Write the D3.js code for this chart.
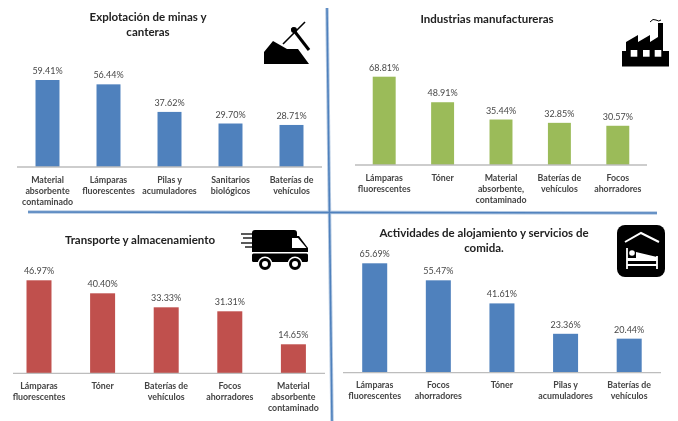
<!DOCTYPE html>
<html>
<head>
<meta charset="utf-8">
<script src="https://d3js.org/d3.v7.min.js"></script>
<style>
  html, body { margin: 0; padding: 0; background: #fff; }
  svg { display: block; filter: blur(0.45px); }
  text { font-family: Lato, "Open Sans", sans-serif; }
</style>
</head>
<body>
<script>
// values
var minasCategories = ['Material\nabsorbente\ncontaminado', 'Lámparas\nfluorescentes', 'Pilas y\nacumuladores', 'Sanitarios\nbiológicos', 'Baterías de\nvehículos'];
var minasValues = [59.41, 56.44, 37.62, 29.70, 28.71];

var industriasCategories = ['Lámparas\nfluorescentes', 'Tóner', 'Material\nabsorbente,\ncontaminado', 'Baterías de\nvehículos', 'Focos\nahorradores'];
var industriasValues = [68.81, 48.91, 35.44, 32.85, 30.57];

var transporteCategories = ['Lámparas\nfluorescentes', 'Tóner', 'Baterías de\nvehículos', 'Focos\nahorradores', 'Material\nabsorbente\ncontaminado'];
var transporteValues = [46.97, 40.40, 33.33, 31.31, 14.65];

var alojamientoCategories = ['Lámparas\nfluorescentes', 'Focos\nahorradores', 'Tóner', 'Pilas y\nacumuladores', 'Baterías de\nvehículos'];
var alojamientoValues = [65.69, 55.47, 41.61, 23.36, 20.44];

var svg = d3.select('body').append('svg').attr('width', 678).attr('height', 421);

var drawPanel = function(p) {
  var x = d3.scaleBand().domain(p.categories).range([p.left, p.right]).paddingInner(0.607).paddingOuter(0.3035);
  var y = d3.scaleLinear().domain([0, d3.max(p.values)]).range([p.base, p.top]);
  var g = svg.append('g');

  var rows = p.categories.map(function(c, i) { return { cat: c, val: p.values[i] }; });

  g.selectAll('rect.bar')
    .data(rows)
    .enter()
    .append('rect')
    .attr('class', 'bar')
    .attr('x', function(d) { return x(d.cat); })
    .attr('y', function(d) { return y(d.val); })
    .attr('width', x.bandwidth())
    .attr('height', function(d) { return p.base - y(d.val); })
    .attr('fill', p.color);

  g.selectAll('text.val')
    .data(rows)
    .enter()
    .append('text')
    .attr('class', 'val')
    .attr('x', function(d) { return x(d.cat) + x.bandwidth() / 2; })
    .attr('y', function(d) { return y(d.val) - 6; })
    .attr('text-anchor', 'middle')
    .attr('font-size', 9)
    .attr('fill', '#484848')
    .text(function(d) { return d.val.toFixed(2) + '%'; });

  // bottom axis, labels get split into lines after
  var axis = g.append('g')
    .attr('transform', 'translate(0,' + p.base + ')')
    .call(d3.axisBottom(x).tickSize(0).tickSizeOuter(0));
  axis.select('.domain')
    .attr('d', 'M' + p.axisLeft + ',0H' + p.axisRight)
    .attr('stroke', '#bdbdbd')
    .attr('stroke-width', 1.3);
  axis.selectAll('.tick text').each(function(d) {
    var t = d3.select(this).text(null)
      .attr('y', 15.5)
      .attr('dy', null)
      .attr('font-size', 8.8)
      .attr('font-weight', 700)
      .attr('fill', '#444');
    d.split('\n').forEach(function(line, i) {
      t.append('tspan').attr('x', 0).attr('dy', i ? 11.3 : 0).text(line);
    });
  });

  p.title.forEach(function(line, i) {
    g.append('text')
      .attr('x', p.titleX)
      .attr('y', p.titleY + i * 14.6)
      .attr('text-anchor', 'middle')
      .attr('font-size', 11.5)
      .attr('font-weight', 700)
      .attr('fill', '#222')
      .text(line);
  });
};

drawPanel({ categories: minasCategories, values: minasValues, color: '#4f81bd', left: 17, right: 322, axisLeft: 17, axisRight: 322, base: 167, top: 80,
  title: ['Explotación de minas y', 'canteras'], titleX: 148, titleY: 21 });
drawPanel({ categories: industriasCategories, values: industriasValues, color: '#9bbb59', left: 355, right: 647, axisLeft: 355, axisRight: 647, base: 165, top: 76.7,
  title: ['Industrias manufactureras'], titleX: 487, titleY: 23 });
drawPanel({ categories: transporteCategories, values: transporteValues, color: '#c0504d', left: 7.2, right: 325.2, axisLeft: 13, axisRight: 325, base: 373.3, top: 280.3,
  title: ['Transporte y almacenamiento'], titleX: 140, titleY: 244 });
drawPanel({ categories: alojamientoCategories, values: alojamientoValues, color: '#4f81bd', left: 342.9, right: 661, axisLeft: 343, axisRight: 661, base: 372.7, top: 263.3,
  title: ['Actividades de alojamiento y servicios de', 'comida.'], titleX: 484, titleY: 237 });

// separators between the four panels, light halo under the blue core
var sep = [[28, 212, 657, 213], [327, 8, 332, 421]];
[['halo', '#b4c9e2', 3.5], ['core', '#4f81bd', 1.6]].forEach(function(s) {
  svg.selectAll('line.' + s[0])
    .data(sep)
    .enter()
    .append('line')
    .attr('class', s[0])
    .attr('x1', function(d) { return d[0]; })
    .attr('y1', function(d) { return d[1]; })
    .attr('x2', function(d) { return d[2]; })
    .attr('y2', function(d) { return d[3]; })
    .attr('stroke', s[1])
    .attr('stroke-width', s[2]);
});

// icons
var mina = svg.append('g');
mina.append('path').attr('d', 'M264,64V52L273,41L287,49L298,49L309,64Z').attr('fill', '#000');
mina.append('path').attr('d', 'M283,44L305,22').attr('stroke', '#000').attr('stroke-width', 1.6);
mina.append('path').attr('d', 'M292,28L309,50').attr('stroke', '#000').attr('stroke-width', 3);
mina.append('circle').attr('cx', 294).attr('cy', 30).attr('r', 3).attr('fill', '#000');

var fabrica = svg.append('g');
fabrica.append('path')
  .attr('d', 'M622,66.5V51H626V42L638,35V42L650,35V42L658,37V23H663V51H669V66.5Z')
  .attr('fill', '#000');
fabrica.selectAll('rect')
  .data([630.7, 643, 654.7])
  .enter()
  .append('rect')
  .attr('x', function(d) { return d; })
  .attr('y', 50)
  .attr('width', 6.6)
  .attr('height', 6.7)
  .attr('fill', '#fff');
fabrica.append('path').attr('d', 'M650,22Q653,18 656,20T661,20').attr('fill', 'none').attr('stroke', '#000');

var camion = svg.append('g');
camion.append('path').attr('d', 'M252,233Q252,230 255,230H294Q297,230 297,233V236H299L308,248V252H252Z').attr('fill', '#000');
camion.append('path').attr('d', 'M292,238H298L306.5,248H292Z').attr('fill', '#fff');
camion.append('rect').attr('x', 252).attr('y', 253.5).attr('width', 56).attr('height', 8.5).attr('rx', 1.5).attr('fill', '#000');
camion.selectAll('path.speed')
  .data([[241, 234], [243, 238], [241, 243], [245, 247]])
  .enter()
  .append('path')
  .attr('class', 'speed')
  .attr('d', function(d) { return 'M' + d[0] + ',' + d[1] + 'L254,' + d[1]; })
  .attr('stroke', '#000')
  .attr('stroke-width', 1.3);
camion.selectAll('circle.gap')
  .data([265, 295])
  .enter()
  .append('circle')
  .attr('class', 'gap')
  .attr('cx', function(d) { return d; })
  .attr('cy', 264)
  .attr('r', 7.5)
  .attr('fill', '#fff');
camion.selectAll('circle.rueda')
  .data([265, 295])
  .enter()
  .append('circle')
  .attr('class', 'rueda')
  .attr('cx', function(d) { return d; })
  .attr('cy', 264)
  .attr('r', 4.5)
  .attr('fill', '#fff')
  .attr('stroke', '#000')
  .attr('stroke-width', 3);

var hotel = svg.append('g');
hotel.append('rect').attr('x', 617).attr('y', 225).attr('width', 48).attr('height', 52).attr('rx', 8).attr('fill', '#000');
hotel.append('path').attr('d', 'M625,242L641,233L659,242').attr('fill', 'none').attr('stroke', '#fff').attr('stroke-width', 2);
hotel.append('path').attr('d', 'M627,248V269M657,256V269M627,265H657').attr('fill', 'none').attr('stroke', '#fff').attr('stroke-width', 1.8);
hotel.append('circle').attr('cx', 632).attr('cy', 253).attr('r', 2.8).attr('fill', '#fff');
hotel.append('path').attr('d', 'M627,258H636V252L657,257V261H627Z').attr('fill', '#fff');
</script>
</body>
</html>
